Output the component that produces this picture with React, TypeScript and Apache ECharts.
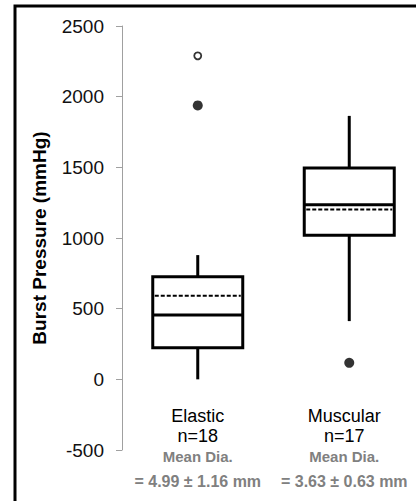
import React, { useEffect, useRef } from "react";
import * as echarts from "echarts";

const categories = ["Elastic", "Muscular"];
const nLabels = ["n=18", "n=17"];
const diaLabels = ["= 4.99 ± 1.16 mm", "= 3.63 ± 0.63 mm"];
const whiskerLow = [0, 412];
const q1 = [223, 1020];
const median = [455, 1235];
const q3 = [726, 1496];
const whiskerHigh = [879, 1864];
const means = [591, 1202];
const outliersFilled = [
  [0, 1938],
  [1, 117],
];
const outliersOpen = [[0, 2289]];
const yTicks = { min: -500, max: 2500, interval: 500 };
const yTitle = "Burst Pressure (mmHg)";

export default function App() {
  const ref = useRef<HTMLDivElement>(null);
  useEffect(() => {
    if (!ref.current) return;
    const chart = echarts.init(ref.current, null, { renderer: "svg" });
    const boxData = categories.map((_, i) => [
      i,
      whiskerLow[i],
      q1[i],
      median[i],
      q3[i],
      whiskerHigh[i],
      means[i],
    ]);
    const font = "'Liberation Sans', Arial, sans-serif";
    const mkRich = (shift: number) => ({
      a: { fontSize: 18, fontFamily: font, color: "#000", lineHeight: 20, padding: [0, shift, 0, 0] },
      b: { fontSize: 15, fontFamily: font, fontWeight: "bold", color: "#808080", lineHeight: 20, padding: [0, shift, 0, 0] },
      c: { fontSize: 16, fontFamily: font, fontWeight: "bold", color: "#808080", lineHeight: 30, padding: [0, shift, 0, 0] },
    });
    const rich: any = { ...mkRich(0) };
    const r2 = mkRich(10);
    rich.a2 = r2.a;
    rich.b2 = r2.b;
    rich.c2 = r2.c;
    chart.setOption({
      animation: false,
      backgroundColor: "#fff",
      grid: {
        left: 122,
        top: 26,
        width: 303,
        height: 424,
        containLabel: false,
        outerBoundsMode: "none",
      },
      xAxis: {
        type: "category",
        data: categories,
        axisLine: { show: false },
        axisTick: { show: false },
        splitLine: { show: false },
        axisLabel: {
          margin: -44,
          interval: 0,
          formatter: (v: string, i: number) => {
            const s = i === 1 ? "2" : "";
            return `{a${s}|${v}}\n{a${s}|${nLabels[i]}}\n{b${s}|Mean Dia.}\n{c${s}|${diaLabels[i]}}`;
          },
          rich,
        },
      },
      yAxis: {
        type: "value",
        min: yTicks.min,
        max: yTicks.max,
        interval: yTicks.interval,
        splitLine: { show: false },
        axisLine: { show: true, lineStyle: { color: "#a0a0a0", width: 1 } },
        axisTick: { show: true, length: 6, lineStyle: { color: "#a0a0a0", width: 1 } },
        axisLabel: {
          fontSize: 19,
          fontFamily: font,
          color: "#111",
          margin: 18,
          formatter: (v: number) => String(v),
        },
      },
      graphic: [
        {
          type: "rect",
          shape: { x: 15, y: 6, width: 440, height: 520 },
          style: { fill: "none", stroke: "#000", lineWidth: 3 },
          z: 100,
        },
        {
          type: "text",
          x: 39.5,
          y: 238,
          rotation: Math.PI / 2,
          style: {
            text: yTitle,
            fontSize: 19,
            fontWeight: "bold",
            fontFamily: font,
            fill: "#000",
            align: "center",
            verticalAlign: "middle",
          },
        },
      ],
      series: [
        {
          type: "custom",
          data: boxData,
          encode: { x: 0, y: [1, 2, 3, 4, 5, 6] },
          renderItem: (params: any, api: any) => {
            const i = api.value(0);
            const x = api.coord([i, 0])[0];
            const y = (d: number) => api.coord([i, api.value(d)])[1];
            const yLow = y(1), yQ1 = y(2), yMed = y(3), yQ3 = y(4), yHigh = y(5), yMean = y(6);
            const hw = 45;
            const black = { stroke: "#000", lineWidth: 3, fill: "none" };
            return {
              type: "group",
              children: [
                { type: "line", shape: { x1: x, y1: yHigh, x2: x, y2: yQ3 }, style: black },
                { type: "line", shape: { x1: x, y1: yQ1, x2: x, y2: yLow }, style: black },
                {
                  type: "rect",
                  shape: { x: x - hw, y: yQ3, width: hw * 2, height: yQ1 - yQ3 },
                  style: { fill: "#fff", stroke: "#000", lineWidth: 3 },
                },
                { type: "line", shape: { x1: x - hw, y1: yMed, x2: x + hw, y2: yMed }, style: black },
                {
                  type: "line",
                  shape: { x1: x - hw + 2, y1: yMean, x2: x + hw - 2, y2: yMean },
                  style: { stroke: "#000", lineWidth: 2, lineDash: [4, 2], fill: "none" },
                },
              ],
            };
          },
          z: 2,
        },
        {
          type: "scatter",
          data: outliersFilled,
          symbol: "circle",
          symbolSize: 10,
          itemStyle: { color: "#000" },
          z: 3,
        },
        {
          type: "scatter",
          data: outliersOpen,
          symbol: "circle",
          symbolSize: 7,
          itemStyle: { color: "#fff", borderColor: "#000", borderWidth: 1.8 },
          z: 3,
        },
      ],
    });
    return () => chart.dispose();
  }, []);
  return (
    <div
      ref={ref}
      style={{ position: "fixed", left: 0, top: 0, width: 416, height: 501, background: "#fff" }}
    />
  );
}
